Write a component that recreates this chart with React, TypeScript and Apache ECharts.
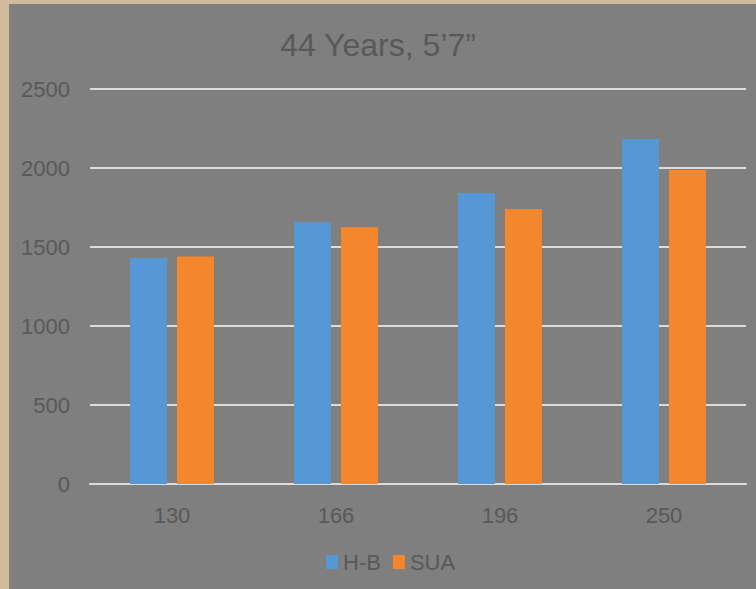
import React, { useEffect, useRef } from "react";
import * as echarts from "echarts";

const categories = ["130", "166", "196", "250"];
const hbValues = [1430, 1656, 1842, 2184];
const suaValues = [1440, 1625, 1741, 1987];
const seriesNames = ["H-B", "SUA"];
const titleText = "44 Years, 5’7”";

export default function App() {
  const ref = useRef<HTMLDivElement>(null);
  useEffect(() => {
    if (!ref.current) return;
    const chart = echarts.init(ref.current, null, { renderer: "svg" });
    const font = "'Liberation Sans', Arial, sans-serif";
    chart.setOption({
      animation: false,
      backgroundColor: "#d2bb9c",
      graphic: [
        {
          type: "rect",
          shape: { x: 9, y: 4, width: 747, height: 585 },
          style: { fill: "#7f7f7f" },
          z: -10,
        },
      ],
      title: {
        text: titleText,
        left: "center",
        top: 24,
        textStyle: { color: "#595959", fontSize: 32, fontWeight: "normal", fontFamily: font },
      },
      legend: {
        data: seriesNames,
        left: 321,
        top: 546,
        icon: "rect",
        itemWidth: 12,
        itemHeight: 14,
        itemGap: 12,
        textStyle: { color: "#595959", fontSize: 22, fontFamily: font },
      },
      grid: { left: 90, right: 10, top: 89, bottom: 105 },
      xAxis: {
        type: "category",
        data: categories,
        axisLine: { show: true, lineStyle: { color: "#dcdcdc", width: 2 } },
        axisTick: { show: false },
        axisLabel: { color: "#595959", fontSize: 22, margin: 20, fontFamily: font },
      },
      yAxis: {
        type: "value",
        min: 0,
        max: 2500,
        interval: 500,
        axisLine: { show: false },
        axisTick: { show: false },
        axisLabel: {
          color: "#595959",
          fontSize: 22,
          margin: 20,
          fontFamily: font,
          formatter: (v: number) => String(v),
        },
        splitLine: { lineStyle: { color: "#dcdcdc", width: 2 } },
      },
      series: [
        {
          name: seriesNames[0],
          type: "bar",
          data: hbValues,
          barWidth: 37,
          barGap: "27%",
          itemStyle: { color: "#5697d6" },
        },
        {
          name: seriesNames[1],
          type: "bar",
          data: suaValues,
          barWidth: 37,
          itemStyle: { color: "#f4862b" },
        },
      ],
    });
    return () => chart.dispose();
  }, []);
  return (
    <div
      ref={ref}
      style={{ position: "absolute", left: 0, top: 0, width: 756, height: 589 }}
    />
  );
}
